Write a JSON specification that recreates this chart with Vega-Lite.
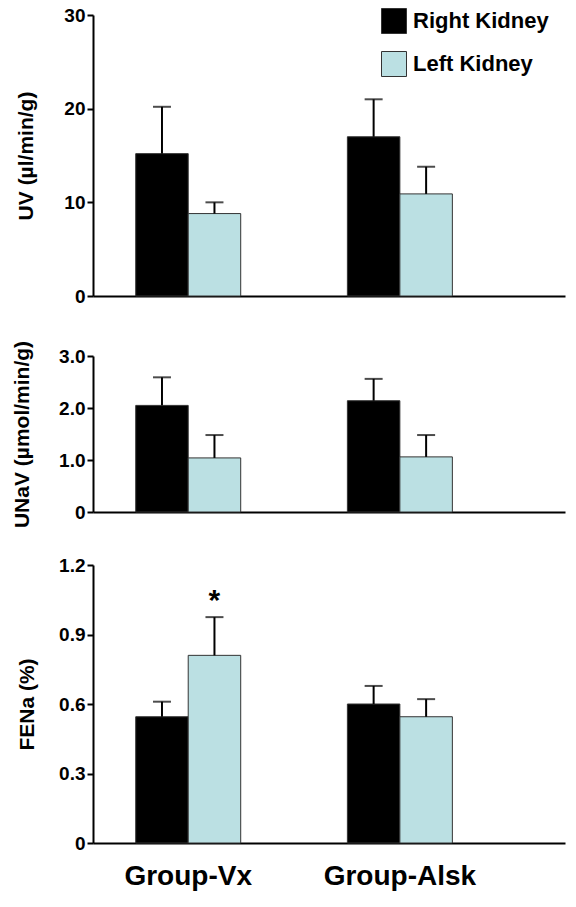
{
  "$schema": "https://vega.github.io/schema/vega-lite/v6.json",
  "background": "white",
  "padding": {"left": 11, "top": 6, "right": 5, "bottom": 5},
  "bounds": "flush",
  "spacing": 60,
  "config": {
    "font": "Liberation Sans",
    "view": {"stroke": null},
    "axis": {
      "domainColor": "#000", "domainWidth": 2,
      "tickColor": "#000", "tickWidth": 2, "tickSize": 6,
      "labelFont": "Liberation Sans", "labelFontWeight": "bold", "labelFontSize": 19, "labelColor": "#000",
      "titleFont": "Liberation Sans", "titleFontWeight": "bold", "titleFontSize": 21, "titleColor": "#000",
      "grid": false
    },
    "legend": {
      "orient": "none", "legendX": 288, "legendY": -7,
      "title": null, "symbolType": "square", "symbolSize": 625,
      "labelFont": "Liberation Sans", "labelFontWeight": "bold", "labelFontSize": 22, "labelColor": "#000",
      "labelOffset": 6, "rowPadding": 13, "symbolStrokeWidth": 1
    }
  },
  "datasets": {
    "d": [
      {"panel": "UV", "group": "Group-Vx", "kidney": "Right Kidney", "mean": 15.2, "hi": 20.2, "sig": ""},
      {"panel": "UV", "group": "Group-Vx", "kidney": "Left Kidney", "mean": 8.8, "hi": 10.0, "sig": ""},
      {"panel": "UV", "group": "Group-Alsk", "kidney": "Right Kidney", "mean": 17.0, "hi": 21.0, "sig": ""},
      {"panel": "UV", "group": "Group-Alsk", "kidney": "Left Kidney", "mean": 10.9, "hi": 13.8, "sig": ""},
      {"panel": "UNaV", "group": "Group-Vx", "kidney": "Right Kidney", "mean": 2.05, "hi": 2.59, "sig": ""},
      {"panel": "UNaV", "group": "Group-Vx", "kidney": "Left Kidney", "mean": 1.04, "hi": 1.48, "sig": ""},
      {"panel": "UNaV", "group": "Group-Alsk", "kidney": "Right Kidney", "mean": 2.14, "hi": 2.56, "sig": ""},
      {"panel": "UNaV", "group": "Group-Alsk", "kidney": "Left Kidney", "mean": 1.06, "hi": 1.48, "sig": ""},
      {"panel": "FENa", "group": "Group-Vx", "kidney": "Right Kidney", "mean": 0.545, "hi": 0.61, "sig": ""},
      {"panel": "FENa", "group": "Group-Vx", "kidney": "Left Kidney", "mean": 0.81, "hi": 0.975, "sig": "*"},
      {"panel": "FENa", "group": "Group-Alsk", "kidney": "Right Kidney", "mean": 0.6, "hi": 0.678, "sig": ""},
      {"panel": "FENa", "group": "Group-Alsk", "kidney": "Left Kidney", "mean": 0.545, "hi": 0.621, "sig": ""}
    ]
  },
  "vconcat": [
    {
      "width": 472, "height": 281,
      "data": {"name": "d"},
      "transform": [{"filter": "datum.panel == 'UV'"}],
      "encoding": {
        "x": {"field": "group", "type": "nominal", "sort": ["Group-Vx", "Group-Alsk"],
              "scale": {"paddingInner": 0.504, "paddingOuter": 0.367, "align": 0.275},
              "axis": {"labels": false, "ticks": false, "title": null}},
        "xOffset": {"field": "kidney", "type": "nominal", "sort": ["Right Kidney", "Left Kidney"],
                    "scale": {"paddingInner": 0, "paddingOuter": 0}}
      },
      "layer": [
        {
          "mark": {"type": "bar", "stroke": "#333", "strokeWidth": 1},
          "encoding": {
            "y": {"field": "mean", "type": "quantitative", "title": "UV (µl/min/g)",
                  "scale": {"domain": [0, 30], "nice": false},
                  "axis": {"values": [0, 10, 20, 30], "labelPadding": 2, "titlePadding": 27}},
            "color": {"field": "kidney", "type": "nominal",
                      "scale": {"domain": ["Right Kidney", "Left Kidney"], "range": ["#000000", "#BBE0E3"]}}
          }
        },
        {
          "mark": {"type": "rule", "color": "#000", "strokeWidth": 2},
          "encoding": {
            "y": {"field": "mean", "type": "quantitative", "title": "UV (µl/min/g)"},
            "y2": {"field": "hi"}
          }
        },
        {
          "mark": {"type": "tick", "color": "#000", "thickness": 2, "size": 18},
          "encoding": {
            "y": {"field": "hi", "type": "quantitative", "title": "UV (µl/min/g)"}
          }
        }
      ]
    },
    {
      "bounds": "flush",
      "spacing": 53,
      "vconcat": [
        {
          "width": 472, "height": 156,
          "data": {"name": "d"},
          "transform": [{"filter": "datum.panel == 'UNaV'"}],
          "encoding": {
            "x": {"field": "group", "type": "nominal", "sort": ["Group-Vx", "Group-Alsk"],
                  "scale": {"paddingInner": 0.504, "paddingOuter": 0.367, "align": 0.275},
                  "axis": {"labels": false, "ticks": false, "title": null}},
            "xOffset": {"field": "kidney", "type": "nominal", "sort": ["Right Kidney", "Left Kidney"],
                        "scale": {"paddingInner": 0, "paddingOuter": 0}}
          },
          "layer": [
            {
              "mark": {"type": "bar", "stroke": "#333", "strokeWidth": 1},
              "encoding": {
                "y": {"field": "mean", "type": "quantitative", "title": "UNaV (µmol/min/g)",
                      "scale": {"domain": [0, 3], "nice": false},
                      "axis": {"values": [0, 1, 2, 3], "labelPadding": 2, "titlePadding": 26,
                               "labelExpr": "datum.value == 0 ? '0' : format(datum.value, '.1f')"}},
                "color": {"field": "kidney", "type": "nominal",
                          "scale": {"domain": ["Right Kidney", "Left Kidney"], "range": ["#000000", "#BBE0E3"]}}
              }
            },
            {
              "mark": {"type": "rule", "color": "#000", "strokeWidth": 2},
              "encoding": {
                "y": {"field": "mean", "type": "quantitative", "title": "UNaV (µmol/min/g)"},
                "y2": {"field": "hi"}
              }
            },
            {
              "mark": {"type": "tick", "color": "#000", "thickness": 2, "size": 18},
              "encoding": {
                "y": {"field": "hi", "type": "quantitative", "title": "UNaV (µmol/min/g)"}
              }
            }
          ]
        },
        {
          "width": 472, "height": 278,
          "data": {"name": "d"},
          "transform": [{"filter": "datum.panel == 'FENa'"}],
          "encoding": {
            "x": {"field": "group", "type": "nominal", "sort": ["Group-Vx", "Group-Alsk"],
                  "scale": {"paddingInner": 0.504, "paddingOuter": 0.367, "align": 0.275},
                  "axis": {"labels": true, "ticks": false, "title": null, "labelAngle": 0,
                           "labelFontSize": 28, "labelPadding": 19}},
            "xOffset": {"field": "kidney", "type": "nominal", "sort": ["Right Kidney", "Left Kidney"],
                        "scale": {"paddingInner": 0, "paddingOuter": 0}}
          },
          "layer": [
            {
              "mark": {"type": "bar", "stroke": "#333", "strokeWidth": 1},
              "encoding": {
                "y": {"field": "mean", "type": "quantitative", "title": "FENa (%)",
                      "scale": {"domain": [0, 1.2], "nice": false},
                      "axis": {"values": [0, 0.3, 0.6, 0.9, 1.2], "labelPadding": 2, "titlePadding": 21,
                               "labelExpr": "datum.value == 0 ? '0' : format(datum.value, '.1f')"}},
                "color": {"field": "kidney", "type": "nominal",
                          "scale": {"domain": ["Right Kidney", "Left Kidney"], "range": ["#000000", "#BBE0E3"]}}
              }
            },
            {
              "mark": {"type": "rule", "color": "#000", "strokeWidth": 2},
              "encoding": {
                "y": {"field": "mean", "type": "quantitative", "title": "FENa (%)"},
                "y2": {"field": "hi"}
              }
            },
            {
              "mark": {"type": "tick", "color": "#000", "thickness": 2, "size": 18},
              "encoding": {
                "y": {"field": "hi", "type": "quantitative", "title": "FENa (%)"}
              }
            },
            {
              "transform": [{"filter": "datum.sig != ''"}],
              "mark": {"type": "text", "fontSize": 30, "fontWeight": "bold", "font": "Liberation Sans",
                       "baseline": "alphabetic", "dy": -7, "color": "#000"},
              "encoding": {
                "y": {"field": "hi", "type": "quantitative", "title": "FENa (%)"},
                "text": {"field": "sig"}
              }
            }
          ]
        }
      ]
    }
  ]
}
